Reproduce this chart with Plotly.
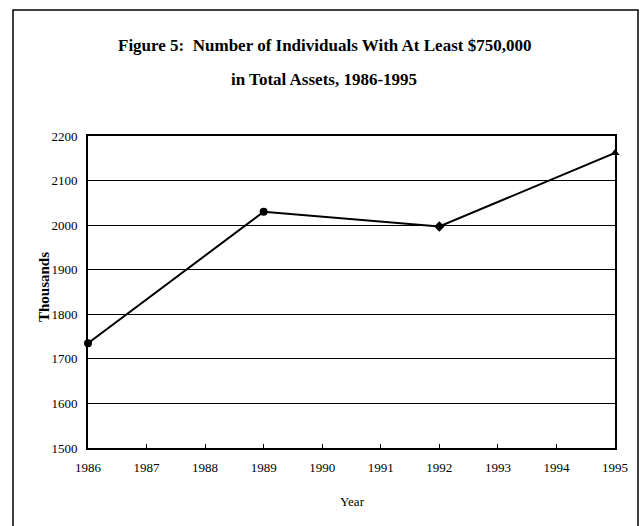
import plotly.graph_objects as go

years = [1986, 1989, 1992, 1995]
thousands = [1735, 2030, 1997, 2162]
marker_symbols = ["circle", "circle", "diamond", "triangle-up"]
x_ticks = list(range(1986, 1996))
y_ticks = list(range(1500, 2201, 100))
title_lines = ["Figure 5:  Number of Individuals With At Least $750,000",
               "in Total Assets, 1986-1995"]

FONT = "Liberation Serif"

# plot area in pixels: x 88..615, y 136..448
def py(pix):
    return (448 - pix) / 312

def px(pix):
    return (pix - 88) / 527

fig = go.Figure()
fig.add_trace(go.Scatter(
    x=years, y=thousands, mode="lines+markers",
    line=dict(color="black", width=2),
    marker=dict(color="black", size=8, symbol=marker_symbols),
    cliponaxis=False, showlegend=False,
))

fig.update_layout(
    width=642, height=526,
    margin=dict(l=88, r=27, t=136, b=78),
    paper_bgcolor="white", plot_bgcolor="white",
    font=dict(family=FONT, color="black", size=13),
    xaxis=dict(
        range=[1986, 1995], tickvals=x_ticks, ticktext=[str(t) for t in x_ticks],
        showgrid=False, zeroline=False,
        showline=True, linecolor="black", linewidth=2, mirror=True,
        ticks="inside", ticklen=4, tickcolor="black", tickwidth=1,
        ticklabelstandoff=6,
        tickfont=dict(family=FONT, size=13),
    ),
    yaxis=dict(
        range=[1500, 2200], tickvals=y_ticks,
        showgrid=True, gridcolor="black", gridwidth=1, zeroline=False,
        showline=True, linecolor="black", linewidth=2, mirror=True,
        ticks="", ticklabelstandoff=6,
        tickfont=dict(family=FONT, size=13),
    ),
    shapes=[
        dict(type="rect", xref="paper", yref="paper",
             x0=px(13), x1=px(638), y0=py(540), y1=py(10),
             line=dict(color="black", width=1.5), layer="below"),
    ],
)

common = dict(xref="paper", yref="paper", showarrow=False,
              xanchor="center", yanchor="middle")
fig.add_annotation(text="<b>" + title_lines[0] + "</b>", x=px(324), y=py(46),
                   font=dict(family=FONT, size=17), **common)
fig.add_annotation(text="<b>" + title_lines[1] + "</b>", x=px(324), y=py(79),
                   font=dict(family=FONT, size=17), **common)
fig.add_annotation(text="<b>Thousands</b>", x=px(44), y=py(287), textangle=-90,
                   font=dict(family=FONT, size=15), **common)
fig.add_annotation(text="Year", x=px(352), y=py(501),
                   font=dict(family=FONT, size=13), **common)

fig.write_html("out.html")
